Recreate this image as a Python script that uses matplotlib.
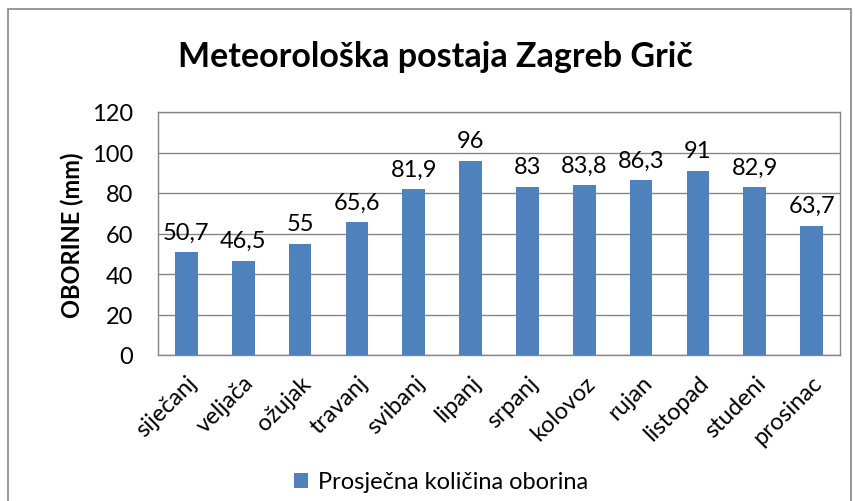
import matplotlib
matplotlib.use("Agg")
import matplotlib.pyplot as plt
from matplotlib.patches import Rectangle

months = ["siječanj", "veljača", "ožujak", "travanj", "svibanj", "lipanj",
          "srpanj", "kolovoz", "rujan", "listopad", "studeni", "prosinac"]
values = [50.7, 46.5, 55, 65.6, 81.9, 96, 83, 83.8, 86.3, 91, 82.9, 63.7]
yticks = [0, 20, 40, 60, 80, 100, 120]
title = "Meteorološka postaja Zagreb Grič"
ylabel = "OBORINE (mm)"
legend_label = "Prosječna količina oborina"

plt.rcParams['font.family'] = ['Lato', 'DejaVu Sans']
FS = 17

W, H = 855, 502
fig = plt.figure(figsize=(W / 100, H / 100), dpi=100)

# outer chart border
fig.patches.append(Rectangle((8 / W, -0.01), (851 - 8) / W, (H - 10) / H + 0.01,
                             transform=fig.transFigure, fill=False,
                             edgecolor="#868686", linewidth=1.2))

left, right, top, bottom = 158, 840, 113, 356
ax = fig.add_axes([left / W, 1 - bottom / H, (right - left) / W, (bottom - top) / H])

x = list(range(len(months)))
bars = ax.bar(x, values, width=0.4, color="#4F81BD", zorder=3, label=legend_label)
for xi, v in zip(x, values):
    ax.annotate(f"{v:g}".replace(".", ","), (xi, v), xytext=(0, 7),
                textcoords="offset points", ha="center", va="bottom",
                fontsize=FS, color="black", zorder=4)

ax.set_xlim(-0.5, len(months) - 0.5)
ax.set_ylim(0, 120)
ax.set_yticks(yticks)
ax.set_yticklabels([str(t) for t in yticks], fontsize=FS)
ax.yaxis.grid(True, color="#868686", linewidth=1)
ax.set_axisbelow(True)
ax.tick_params(axis="y", length=0, pad=18)
ax.tick_params(axis="x", length=0, pad=12)
ax.set_xticks(x)
ax.set_xticklabels(months, rotation=45, ha="right", rotation_mode="anchor",
                   fontsize=FS)
for s in ["left", "top", "right", "bottom"]:
    ax.spines[s].set_color("#868686")
    ax.spines[s].set_linewidth(1)

fig.text(72 / W, 1 - 235 / H, ylabel, rotation=90, ha="center", va="center",
         fontsize=FS, fontweight="bold")

fig.text(435 / W, 1 - 57 / H, title, ha="center", va="center",
         fontsize=24.5, fontweight="bold")

ax.legend(loc="center", bbox_to_anchor=(441 / W, 1 - 483 / H),
          bbox_transform=fig.transFigure, frameon=False, fontsize=FS,
          handlelength=0.6, handleheight=0.6, handletextpad=0.4)

fig.savefig("out.png", dpi=100)
